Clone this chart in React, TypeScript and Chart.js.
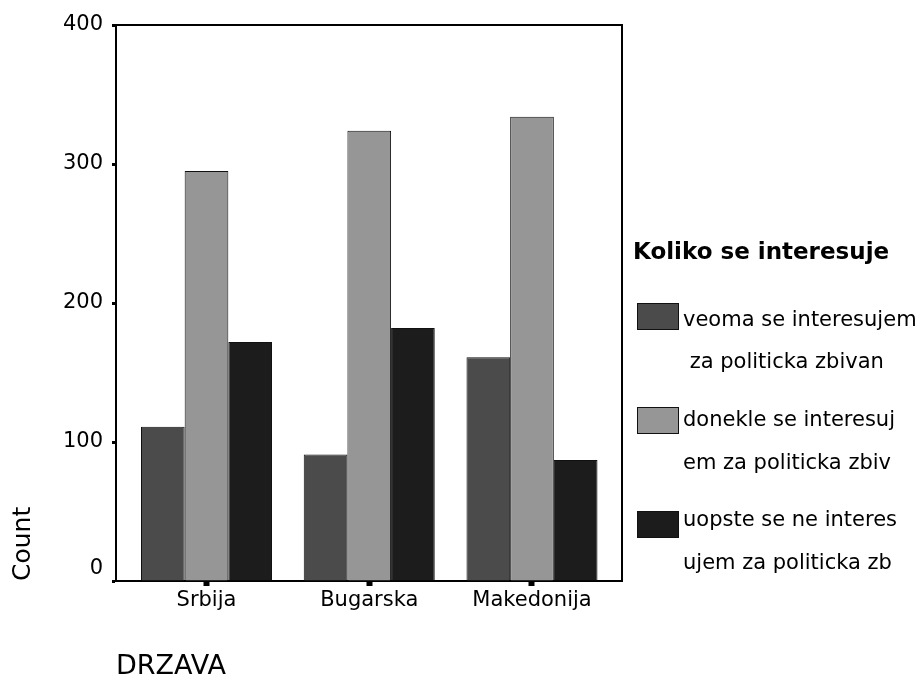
import React, { useEffect, useRef } from 'react';
import { Chart, registerables } from 'chart.js';

Chart.register(...registerables);

const categories = ['Srbija', 'Bugarska', 'Makedonija'];
const veomaValues = [111, 91, 161];
const donekleValues = [295, 324, 334];
const uopsteValues = [172, 182, 87];
const seriesLegendLines = [
  ['veoma se interesujem', ' za politicka zbivan'],
  ['donekle se interesuj', 'em za politicka zbiv'],
  ['uopste se ne interes', 'ujem za politicka zb'],
];
const seriesColors = ['#4b4b4b', '#969696', '#1c1c1c'];
const yTicks = [0, 100, 200, 300, 400];
const legendTitle = 'Koliko se interesuje';
const xTitle = 'DRZAVA';
const yTitle = 'Count';

const FONT = '"DejaVu Sans", "Liberation Sans", sans-serif';
const BAR_BORDER = '#111111';

const framePlugin = {
  id: 'frameLines',
  afterDatasetsDraw(chart: any) {
    const { ctx, chartArea } = chart;
    const { left, top, right, bottom } = chartArea;
    ctx.save();
    ctx.strokeStyle = '#000';
    ctx.lineWidth = 2;
    ctx.beginPath();
    ctx.moveTo(left, top);
    ctx.lineTo(right, top);
    ctx.lineTo(right, bottom);
    ctx.stroke();
    ctx.restore();
  },
};

// legend geometry (page pixels)
const LEGEND_LEFT = 637;
const LEGEND_TEXT_LEFT = 683;
const LEGEND_TITLE_TOP = 239.5;
const LEGEND_BOX_TOPS = [303, 407, 511];
const LEGEND_LINE_TOPS = [
  [309, 350.5],
  [408.5, 452],
  [509, 552],
];

export default function App() {
  const canvasRef = useRef<HTMLCanvasElement | null>(null);

  useEffect(() => {
    if (!canvasRef.current) return;
    const seriesValues = [veomaValues, donekleValues, uopsteValues];
    const chart = new Chart(canvasRef.current, {
      type: 'bar',
      data: {
        datasets: seriesValues.map((vals, i) => ({
          label: seriesLegendLines[i].join(''),
          data: vals.map((v, j) => ({ x: j, y: v })),
          backgroundColor: seriesColors[i],
          borderColor: BAR_BORDER,
          borderWidth: 1,
          categoryPercentage: 0.805,
          barPercentage: 1,
        })),
      },
      options: {
        animation: false,
        responsive: true,
        maintainAspectRatio: false,
        layout: { padding: { top: 25, right: 299, bottom: 0, left: 0 } },
        scales: {
          x: {
            type: 'linear',
            position: 'bottom',
            offset: false,
            min: -0.556,
            max: 2.553,
            z: 1,
            afterBuildTicks: (s: any) => {
              s.ticks = categories.map((_, i) => ({ value: i }));
            },
            afterFit: (s: any) => {
              s.height = 99;
            },
            grid: {
              display: true,
              offset: false,
              drawOnChartArea: false,
              drawTicks: true,
              tickLength: 5,
              tickWidth: 6,
              tickColor: '#000',
              color: '#000',
              lineWidth: 1,
            },
            border: { display: true, color: '#000', width: 2 },
            ticks: {
              padding: 2,
              color: '#000',
              autoSkip: false,
              maxRotation: 0,
              font: { family: FONT, size: 21 },
              callback: (v: any) => categories[v] ?? '',
            },
            title: {
              display: true,
              text: xTitle,
              align: 'start',
              color: '#000',
              font: { family: FONT, size: 27, lineHeight: 1 },
              padding: 0,
            },
          },
          y: {
            type: 'linear',
            position: 'left',
            min: 0,
            max: 400,
            afterBuildTicks: (s: any) => {
              s.ticks = yTicks.map((v) => ({ value: v }));
            },
            afterFit: (s: any) => {
              s.width = 116;
            },
            grid: {
              display: true,
              drawOnChartArea: false,
              drawTicks: true,
              tickLength: 4,
              tickWidth: 3,
              tickColor: '#000',
              color: '#000',
              lineWidth: 1,
            },
            border: { display: true, color: '#000', width: 2 },
            ticks: {
              padding: 9,
              color: '#000',
              font: { family: FONT, size: 21 },
              callback: (v: any) => (v === 0 ? ['0', ''] : String(v)),
            },
            title: {
              display: true,
              text: yTitle,
              align: 'start',
              color: '#000',
              font: { family: FONT, size: 25, lineHeight: 1 },
              padding: { top: 11, bottom: 0 },
            },
          },
        },
        plugins: {
          tooltip: { enabled: false },
          legend: { display: false },
        },
      } as any,
      plugins: [framePlugin],
    });
    return () => chart.destroy();
  }, []);

  return (
    <div style={{ position: 'absolute', left: 0, top: 0, width: 921, height: 680, background: '#fff', overflow: 'hidden' }}>
      <canvas ref={canvasRef} />
      <div
        style={{
          position: 'absolute',
          left: 633,
          top: LEGEND_TITLE_TOP,
          font: `bold 23px/1 ${FONT}`,
          color: '#000',
          whiteSpace: 'pre',
        }}
      >
        {legendTitle}
      </div>
      {seriesLegendLines.map((lines, i) => (
        <React.Fragment key={i}>
          <div
            style={{
              position: 'absolute',
              left: LEGEND_LEFT,
              top: LEGEND_BOX_TOPS[i],
              width: 42,
              height: 27,
              boxSizing: 'border-box',
              border: `1px solid ${BAR_BORDER}`,
              background: seriesColors[i],
            }}
          />
          {lines.map((line, k) => (
            <div
              key={k}
              style={{
                position: 'absolute',
                left: LEGEND_TEXT_LEFT,
                top: LEGEND_LINE_TOPS[i][k],
                font: `21px/1 ${FONT}`,
                color: '#000',
                whiteSpace: 'pre',
              }}
            >
              {line}
            </div>
          ))}
        </React.Fragment>
      ))}
    </div>
  );
}
